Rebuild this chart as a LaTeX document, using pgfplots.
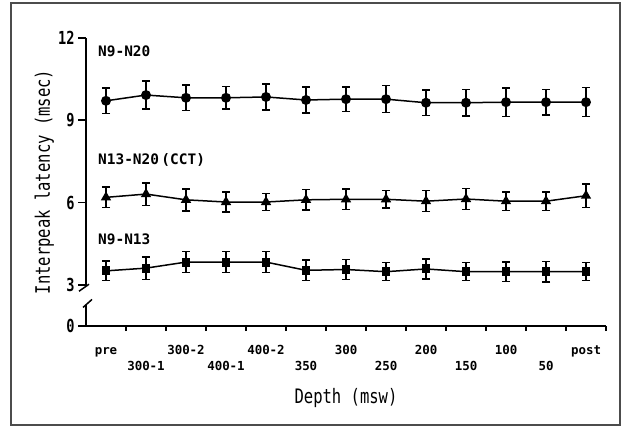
\documentclass[border=0pt]{standalone}
\usepackage{fontspec}
\setmainfont{DejaVu Sans Mono}
\newfontfamily\narrowfont[FakeStretch=0.78]{DejaVu Sans Mono}
\newfontfamily\ytfont[FakeStretch=0.76]{DejaVu Sans Mono Bold}
\usepackage{pgfplots}
\pgfplotsset{compat=1.18}
\newcommand\lo[1]{\raisebox{-16bp}{#1}}
\begin{document}
\begin{tikzpicture}
\useasboundingbox (-86bp,-102bp) rectangle (541bp,326bp);
\draw[line width=1.2bp, black!70] (-75bp,-99bp) rectangle (534bp,323bp);
\begin{axis}[
    at={(0,0)}, anchor=south west,
    scale only axis,
    width=520bp, height=288bp,
    xmin=-0.5, xmax=12.5,
    ymin=1.5, ymax=12,
    clip=false,
    axis x line=bottom, axis y line=left,
    axis line style={-, line width=1.6bp},
    y axis line style={draw=none},
    tick align=outside,
    major tick length=8bp,
    minor tick length=5bp,
    tick style={line width=1.6bp, black},
    major x tick style={draw=none},
    xtick={0,...,12},
    xticklabels={pre,\lo{300-1},300-2,\lo{400-1},400-2,\lo{350},300,\lo{250},200,\lo{150},100,\lo{50},post},
    minor xtick={0.5,1.5,...,12.5},
    xticklabel style={anchor=base, yshift=-20bp, font=\bfseries\fontsize{12.5}{12.5}\selectfont},
    ytick={1.5,3,6,9,12},
    yticklabels={0,3,6,9,12},
    yticklabel style={font=\ytfont\fontsize{18}{18}\selectfont},
    xlabel={Depth (msw)},
    xlabel style={at={(axis description cs:0.5,0)}, anchor=base, yshift=-77bp, font=\narrowfont\fontsize{20}{20}\selectfont},
    ylabel={Interpeak latency (msec)},
    ylabel style={at={(axis description cs:-0.08,0.5)}, anchor=center, font=\narrowfont\fontsize{20}{20}\selectfont},
    every axis plot/.append style={black, line width=1.5bp},
    error bars/error bar style={line width=1.4bp},
    error bars/error mark options={rotate=90, mark size=4bp, line width=1.4bp},
]
% N9-N20
\addplot[mark=*, mark size=4.2bp, error bars/.cd, y dir=both, y explicit] coordinates {
    (0,9.71) +- (0,0.47) (1,9.92) +- (0,0.51) (2,9.82) +- (0,0.46)
    (3,9.82) +- (0,0.41) (4,9.85) +- (0,0.48) (5,9.74) +- (0,0.47)
    (6,9.77) +- (0,0.44) (7,9.77) +- (0,0.49) (8,9.64) +- (0,0.47)
    (9,9.64) +- (0,0.49) (10,9.66) +- (0,0.52) (11,9.66) +- (0,0.47)
    (12,9.66) +- (0,0.53)
};
% N13-N20 (CCT)
\addplot[mark=triangle*, mark size=4.5bp, error bars/.cd, y dir=both, y explicit] coordinates {
    (0,6.19) +- (0,0.38) (1,6.31) +- (0,0.41) (2,6.10) +- (0,0.40)
    (3,6.02) +- (0,0.37) (4,6.02) +- (0,0.30) (5,6.10) +- (0,0.37)
    (6,6.12) +- (0,0.37) (7,6.12) +- (0,0.32) (8,6.05) +- (0,0.38)
    (9,6.13) +- (0,0.38) (10,6.05) +- (0,0.33) (11,6.05) +- (0,0.34)
    (12,6.25) +- (0,0.42)
};
% N9-N13
\addplot[mark=square*, mark size=3.7bp, error bars/.cd, y dir=both, y explicit] coordinates {
    (0,3.51) +- (0,0.36) (1,3.61) +- (0,0.41) (2,3.83) +- (0,0.38)
    (3,3.83) +- (0,0.39) (4,3.83) +- (0,0.39) (5,3.53) +- (0,0.38)
    (6,3.56) +- (0,0.36) (7,3.48) +- (0,0.33) (8,3.58) +- (0,0.36)
    (9,3.48) +- (0,0.33) (10,3.48) +- (0,0.36) (11,3.48) +- (0,0.38)
    (12,3.48) +- (0,0.33)
};
% broken y axis
\draw[line width=1.6bp] (axis cs:-0.5,12) -- (axis cs:-0.5,2.95);
\draw[line width=1.6bp] (axis cs:-0.5,2.25) -- (axis cs:-0.5,1.5);
\draw[line width=1.5bp] ([shift={(3bp,2bp)}]axis cs:-0.5,2.95) -- ([shift={(-7bp,-5bp)}]axis cs:-0.5,2.95);
\draw[line width=1.5bp] ([shift={(-3bp,-2bp)}]axis cs:-0.5,2.25) -- ([shift={(6bp,6bp)}]axis cs:-0.5,2.25);
% series labels
\node[anchor=base west, font=\bfseries\fontsize{14.5}{14.5}\selectfont, inner sep=0pt] at (axis cs:-0.2,11.31) {N9-N20};
\node[anchor=base west, font=\bfseries\fontsize{14.5}{14.5}\selectfont, inner sep=0pt] at (axis cs:-0.2,7.37) {N13-N20\,(CCT)};
\node[anchor=base west, font=\bfseries\fontsize{14.5}{14.5}\selectfont, inner sep=0pt] at (axis cs:-0.2,4.46) {N9-N13};
\end{axis}
\end{tikzpicture}
\end{document}
